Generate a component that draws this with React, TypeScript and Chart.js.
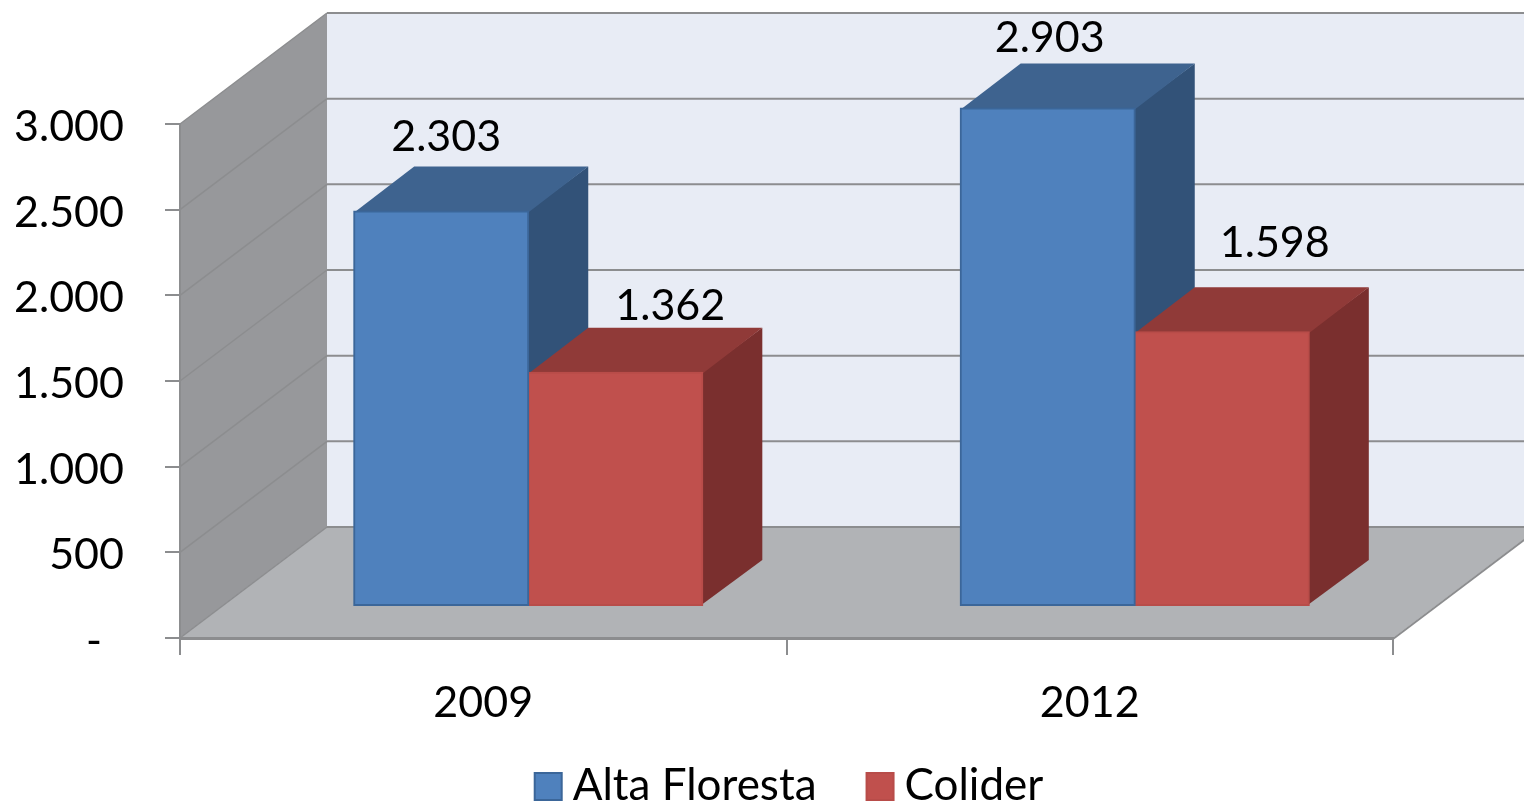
import React, { useEffect, useRef } from "react";
import { Chart, registerables } from "chart.js";

Chart.register(...registerables);

const categories = ["2009", "2012"];
const altaFloresta = [2303, 2903];
const colider = [1362, 1598];
const seriesNames = ["Alta Floresta", "Colider"];
const FONT = "Lato, Carlito, 'Open Sans', sans-serif";
const FONT_SIZE = 43;
const LEGEND_FONT_SIZE = 44;

// 3D layout
const WALL = { dx: 147, dy: -111 };
const BAR_SHIFT = { dx: 45, dy: -32 };
const BAR_DEPTH = { dx: 60, dy: -45 };
const LABEL_NUDGE = [
  [[5, -74], [2, -70]],
  [[55, -67], [53, -89]],
];
const FACE = [
  { front: "#4F81BD", border: "#3B6699", top: "#3E638F", side: "#325278" },
  { front: "#C0504D", border: "#B84C49", top: "#903A38", side: "#7A2F2E" },
];
const GRID = "#8C8D8F";
const LEGEND_SHIFT = 2;

function poly(ctx: CanvasRenderingContext2D, pts: number[][], fill: string) {
  ctx.beginPath();
  pts.forEach(([x, y], i) => (i ? ctx.lineTo(x, y) : ctx.moveTo(x, y)));
  ctx.closePath();
  ctx.fillStyle = fill;
  ctx.fill();
}

function line(ctx: CanvasRenderingContext2D, x1: number, y1: number, x2: number, y2: number, w = 2) {
  ctx.beginPath();
  ctx.moveTo(x1, y1);
  ctx.lineTo(x2, y2);
  ctx.strokeStyle = GRID;
  ctx.lineWidth = w;
  ctx.stroke();
}

const fmt = (v: number) => (v === 0 ? "-  " : v.toLocaleString("de-DE"));

const box3d = {
  id: "box3d",
  afterLayout(chart: any) {
    chart.legend.left += LEGEND_SHIFT;
    chart.legend.right += LEGEND_SHIFT;
    // the x labels may run past the scale box without being clipped
    chart.scales.x.bottom += 30;
  },
  beforeDraw(chart: any) {
    const { ctx, chartArea: a, scales } = chart;
    const y = scales.y;
    const bl = y.getPixelForValue(0);
    const tl = y.getPixelForValue(3000);
    ctx.save();
    // back wall
    poly(ctx, [[a.left + WALL.dx, tl + WALL.dy], [a.right + WALL.dx, tl + WALL.dy], [a.right + WALL.dx, bl + WALL.dy], [a.left + WALL.dx, bl + WALL.dy]], "#E8ECF5");
    // side wall
    poly(ctx, [[a.left, tl], [a.left + WALL.dx, tl + WALL.dy], [a.left + WALL.dx, bl + WALL.dy], [a.left, bl]], "#97989B");
    // floor
    poly(ctx, [[a.left, bl], [a.right, bl], [a.right + WALL.dx, bl + WALL.dy], [a.left + WALL.dx, bl + WALL.dy]], "#B1B3B6");
    // gridlines
    y.ticks.forEach((t: any) => {
      const p = y.getPixelForValue(t.value);
      line(ctx, a.left, p, a.left + WALL.dx, p + WALL.dy, 1.5);
      line(ctx, a.left + WALL.dx, p + WALL.dy, a.right + WALL.dx, p + WALL.dy, 2);
    });
    line(ctx, a.right, bl + 1, a.right + WALL.dx, bl + WALL.dy + 1, 2);
    ctx.restore();
  },
  beforeDatasetsDraw(chart: any) {
    const { ctx } = chart;
    ctx.save();
    chart.data.datasets.forEach((_: any, di: number) => {
      chart.getDatasetMeta(di).data.forEach((b: any) => {
        const l = b.x - b.width / 2 + BAR_SHIFT.dx;
        const r = b.x + b.width / 2 + BAR_SHIFT.dx;
        const t = b.y + BAR_SHIFT.dy;
        const bt = b.base + BAR_SHIFT.dy;
        const d = BAR_DEPTH;
        // faces run 1px under the front so no background shows at the seams
        poly(ctx, [[r - 1, t], [r + d.dx, t + d.dy], [r + d.dx, bt + d.dy], [r - 1, bt]], FACE[di].side);
        poly(ctx, [[l, t + 1], [r, t + 1], [r + d.dx, t + d.dy], [l + d.dx, t + d.dy]], FACE[di].top);
      });
    });
    ctx.restore();
    ctx.save();
    ctx.translate(BAR_SHIFT.dx, BAR_SHIFT.dy);
  },
  afterDatasetsDraw(chart: any) {
    const { ctx } = chart;
    ctx.restore();
    ctx.save();
    ctx.fillStyle = "#000";
    ctx.font = `${FONT_SIZE}px ${FONT}`;
    ctx.textAlign = "center";
    ctx.textBaseline = "middle";
    chart.data.datasets.forEach((ds: any, di: number) => {
      chart.getDatasetMeta(di).data.forEach((b: any, i: number) => {
        const [nx, ny] = LABEL_NUDGE[di][i];
        ctx.fillText(fmt(ds.data[i]), b.x + BAR_SHIFT.dx + nx, b.y + BAR_SHIFT.dy + ny);
      });
    });
    ctx.restore();
  },
  afterDraw(chart: any) {
    const { ctx, legend } = chart;
    ctx.save();
    legend.legendHitBoxes.forEach((h: any, i: number) => {
      const y = h.top + h.height / 2 - 13;
      ctx.fillStyle = FACE[i].front;
      ctx.strokeStyle = FACE[i].border;
      ctx.lineWidth = 2;
      ctx.fillRect(h.left + 1, y, 27, 27);
      ctx.strokeRect(h.left + 1, y, 27, 27);
    });
    ctx.restore();
  },
};

export default function App() {
  const ref = useRef<HTMLCanvasElement>(null);
  useEffect(() => {
    const chart = new Chart(ref.current!, {
      type: "bar",
      data: {
        labels: categories,
        datasets: [altaFloresta, colider].map((data, i) => ({
          label: seriesNames[i],
          data,
          backgroundColor: FACE[i].front,
          borderColor: FACE[i].border,
          borderWidth: 2,
          borderSkipped: false,
          inflateAmount: 1,
          barPercentage: 1,
          categoryPercentage: 0.574,
        })),
      },
      options: {
        responsive: false,
        animation: false,
        layout: { padding: { top: 124, right: 131, left: 0, bottom: -14 } },
        scales: {
          x: {
            afterFit: (s: any) => { s.height = 77; },
            border: { color: GRID, width: 3 },
            grid: { drawOnChartArea: false, tickLength: 17, color: GRID, lineWidth: 2, offset: true },
            ticks: { color: "#000", font: { family: FONT, size: FONT_SIZE }, padding: 22, maxRotation: 0 },
          },
          y: {
            min: 0,
            max: 3000,
            afterFit: (s: any) => { s.width = 180; },
            border: { color: GRID, width: 2 },
            grid: { drawOnChartArea: false, tickLength: 15, color: GRID, lineWidth: 2 },
            ticks: { stepSize: 500, color: "#000", font: { family: FONT, size: FONT_SIZE }, padding: 41, labelOffset: 3, callback: (v: any) => fmt(Number(v)) },
          },
        },
        plugins: {
          tooltip: { enabled: false },
          legend: {
            position: "bottom",
            fullSize: false,
            labels: {
              color: "#000",
              font: { family: FONT, size: LEGEND_FONT_SIZE },
              boxWidth: 17,
              boxHeight: 28,
              padding: 49,
              generateLabels: (c: any) =>
                c.data.datasets.map((d: any, i: number) => ({
                  text: d.label,
                  fillStyle: "rgba(0,0,0,0)",
                  strokeStyle: "rgba(0,0,0,0)",
                  lineWidth: 0,
                  datasetIndex: i,
                })),
            },
          },
        },
      },
      plugins: [box3d],
    } as any);
    return () => chart.destroy();
  }, []);
  return (
    <div style={{ position: "fixed", left: 0, top: 0, width: 1524, height: 804, background: "#fff" }}>
      <canvas ref={ref} width={1524} height={804} style={{ display: "block" }} />
    </div>
  );
}
